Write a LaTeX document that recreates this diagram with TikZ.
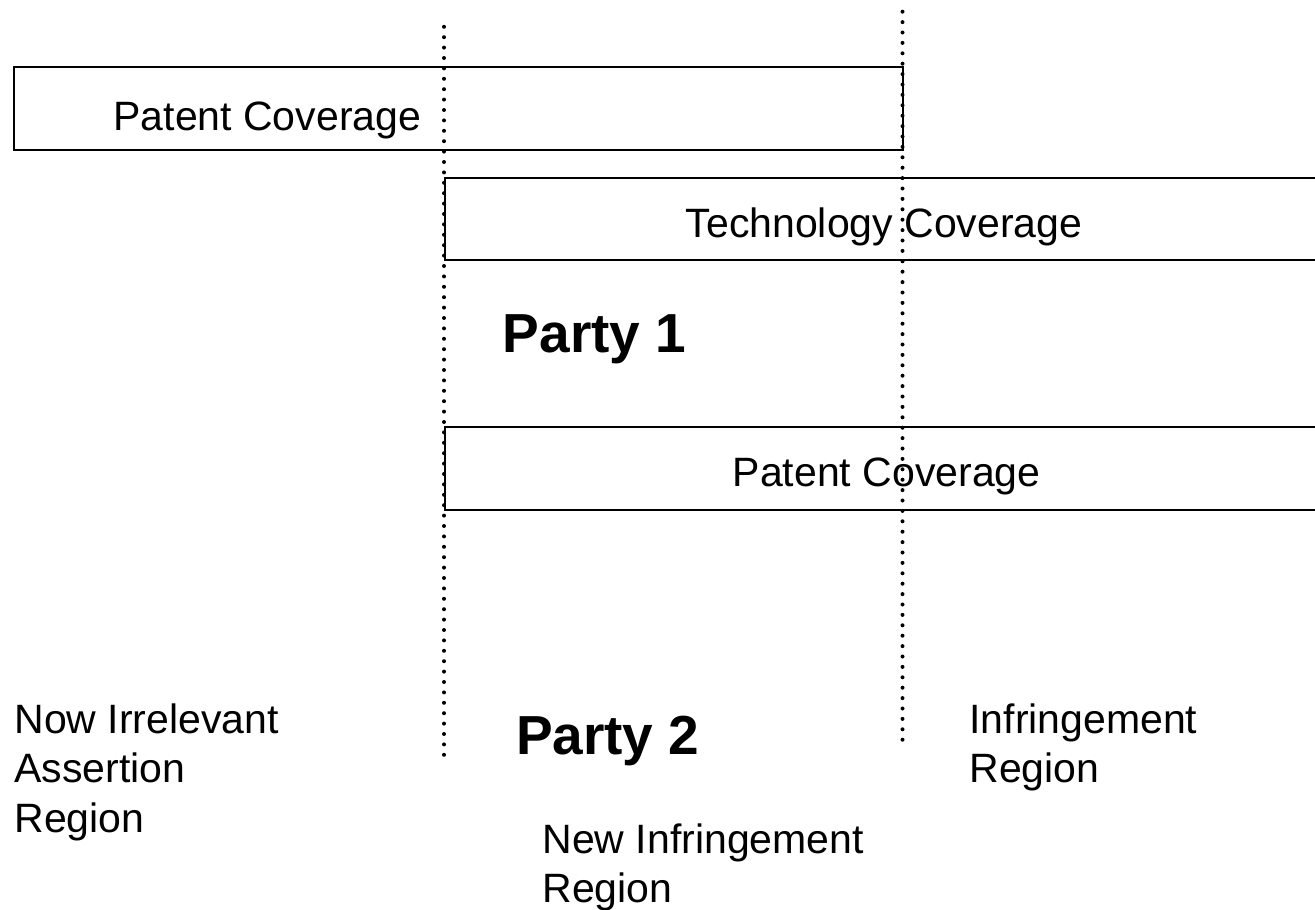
\documentclass[tikz,border=0pt]{standalone}
\usepackage{fontspec}
\setmainfont{Liberation Sans}
\begin{document}
\begin{tikzpicture}[x=1pt,y=-1pt,
  band/.style={draw=black,line width=2pt},
  divider/.style={line width=4pt,line cap=round,dash pattern=on 0pt off 10.4pt},
  lbl/.style={anchor=base west,inner sep=0pt,outer sep=0pt,font=\fontsize{41}{49.5}\selectfont},
  party/.style={anchor=base west,inner sep=0pt,outer sep=0pt,font=\fontsize{55}{66}\selectfont\bfseries}]
\useasboundingbox[fill=white] (0,0) rectangle (1315,910);

% corners of the coverage bands (the two lower bands run off the right edge)
\coordinate (pA) at (14,67);   \coordinate (pB) at (903,150);
\coordinate (tA) at (445,178); \coordinate (tB) at (1316,260);
\coordinate (qA) at (445,427); \coordinate (qB) at (1316,510);

% upper patent coverage: closed box
\draw[band] (pA) rectangle (pB);
% technology coverage and lower patent coverage: open on the right
\draw[band] (tA -| tB) -- (tA) -- (tA |- tB) -- (tB);
\draw[band] (qA -| qB) -- (qA) -- (qA |- qB) -- (qB);

% dotted dividers
\coordinate (d1top) at (444,26.8);  \coordinate (d1bot) at (444,755);
\coordinate (d2top) at (902.5,11.7); \coordinate (d2bot) at (902.5,742);
\draw[divider] (d1top) -- (d1bot);
\draw[divider] (d2top) -- (d2bot);

% band labels
\node[lbl] (patTop) at (113.5,130.7) {Patent Coverage};
\node[lbl] (tech)   at (685.7,237.3) {Technology Coverage};
\node[lbl] (patLow) at (732.8,486)   {Patent Coverage};

% parties
\node[party] (p1) at (502.8,352.7) {Party 1};
\node[party] (p2) at (516,754)     {Party 2};

% region labels
\node[lbl] (irr1) at (14.5,733)   {Now Irrelevant};
\node[lbl] (irr2) at (14.5,782.5) {Assertion};
\node[lbl] (irr3) at (14.5,832)   {Region};

\node[lbl] (inf1) at (969.5,733)   {Infringement};
\node[lbl] (inf2) at (969.5,782.5) {Region};

\node[lbl] (new1) at (542.5,853)   {New Infringement};
\node[lbl] (new2) at (542.5,902.5) {Region};
\end{tikzpicture}
\end{document}
